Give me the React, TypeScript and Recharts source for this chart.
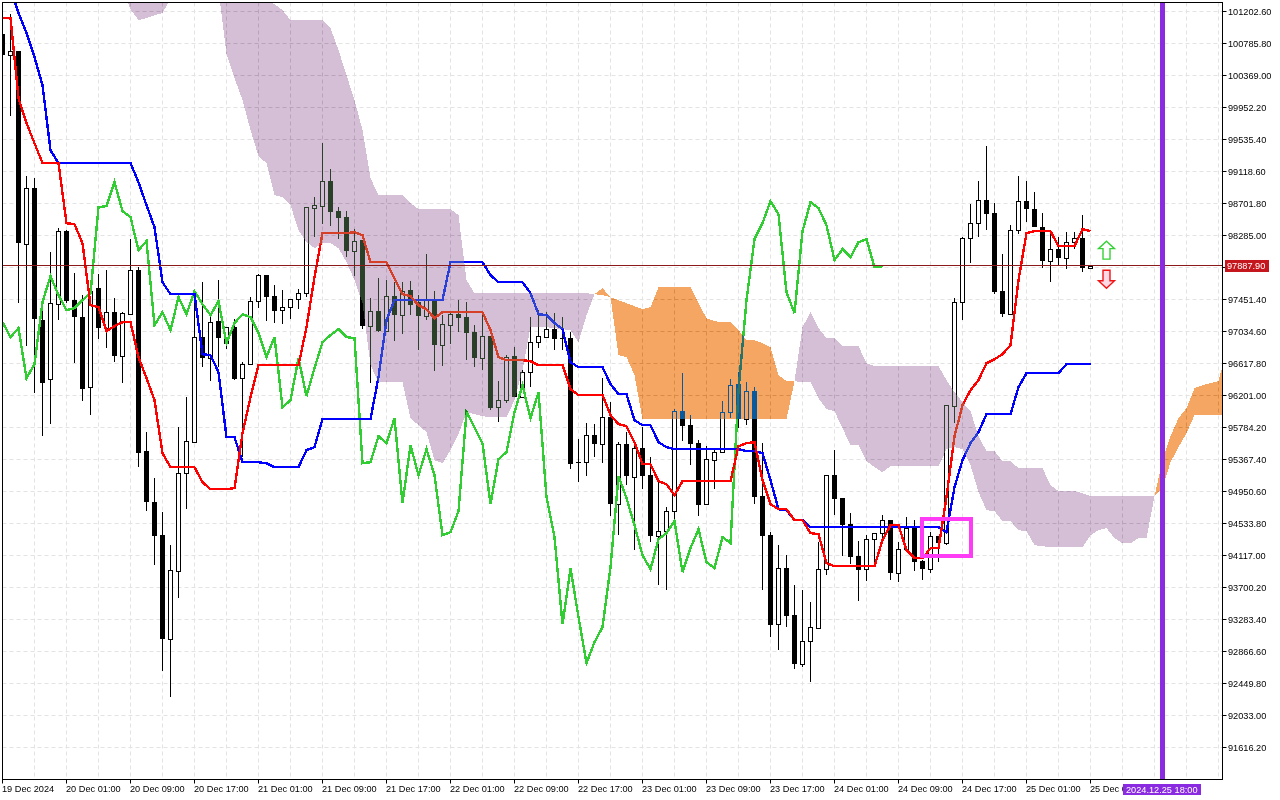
import {
  Area,
  Bar,
  CartesianGrid,
  ComposedChart,
  Line,
  ReferenceArea,
  ReferenceDot,
  ReferenceLine,
  XAxis,
  YAxis,
} from "recharts";

const timeLabels = [
  "19 Dec 2024", "20 Dec 01:00", "20 Dec 09:00", "20 Dec 17:00", "21 Dec 01:00", "21 Dec 09:00",
  "21 Dec 17:00", "22 Dec 01:00", "22 Dec 09:00", "22 Dec 17:00", "23 Dec 01:00", "23 Dec 09:00",
  "23 Dec 17:00", "24 Dec 01:00", "24 Dec 09:00", "24 Dec 17:00", "25 Dec 01:00", "25 Dec 09:00",
];

const priceTicks = [
  101202.6, 100785.8, 100369.0, 99952.2, 99535.4, 99118.6, 98701.8, 98285.0, 97868.2, 97451.4, 97034.6, 96617.8,
  96201.0, 95784.2, 95367.4, 94950.6, 94533.8, 94117.0, 93700.2, 93283.4, 92866.6, 92449.8, 92033.0, 91616.2,
];

const lastPrice = 97887.9;
const futureBar = 145;
const futureLabel = "2024.12.25 18:00";

const opens = [
  100907, 100634, 100686, 98172, 98902, 97182, 96414, 97391, 98341, 97443,
  97221, 96310, 97599, 97078, 97286, 96713, 97260, 97833, 95476, 94812,
  94382, 93027, 93913, 95189, 95593, 96961, 96687, 97169, 96882, 97091,
  96427, 96609, 97430, 97768, 97495, 97312, 97351, 97456, 97534, 98641,
  98667, 98993, 98602, 98524, 98081, 98224, 97104, 97299, 97039, 97495,
  97247, 97573, 97417, 97234, 97443, 96857, 97117, 97260, 97221, 97026,
  96687, 96974, 96049, 96140, 96713, 96179, 96505, 96896, 96961, 97065,
  96948, 96948, 95332, 95332, 95684, 95567, 95919, 94786, 95567, 95137,
  95515, 95163, 94369, 94434, 94694, 95997, 95814, 95580, 94786, 95359,
  95463, 95984, 96349, 95893, 96257, 94890, 94382, 93223, 93952, 93340,
  92702, 93001, 93170, 93939, 95163, 94864, 94525, 94108, 93939, 94330,
  94408, 94577, 93887, 94199, 94486, 94043, 93939, 94369, 94278, 96062,
  97417, 98250, 98445, 98745, 98576, 97560, 97260, 98354, 98732, 98628,
  98393, 97951, 98107, 97990, 98198, 98250, 97859,
];

const closes = [
  100634, 100686, 98185, 98902, 97195, 96362, 97404, 98341, 97430, 97221,
  96283, 97560, 97078, 97286, 96713, 97273, 97833, 95450, 94812, 94369,
  93027, 93926, 95189, 95606, 96961, 96687, 97156, 96948, 97091, 96414,
  96609, 97430, 97768, 97482, 97299, 97351, 97456, 97534, 98654, 98680,
  98993, 98589, 98511, 98081, 98211, 97104, 97299, 97039, 97495, 97247,
  97560, 97377, 97234, 97443, 96857, 97130, 97260, 97208, 97013, 96687,
  96974, 96036, 96140, 96700, 96179, 96505, 96896, 96974, 97065, 96935,
  96935, 95306, 95319, 95684, 95567, 95919, 94786, 95567, 95150, 95515,
  95150, 94369, 94434, 94694, 95997, 95801, 95567, 94772, 95372, 95463,
  95984, 96336, 95893, 96257, 94877, 94369, 93210, 93952, 93327, 92702,
  93001, 93183, 93939, 95163, 94851, 94512, 94095, 93926, 94330, 94408,
  94577, 93887, 94199, 94473, 94030, 93939, 94369, 94278, 96075, 97417,
  98250, 98445, 98745, 98563, 97547, 97260, 98354, 98732, 98628, 98393,
  97951, 98107, 97990, 98198, 98250, 97859, 97888,
];

const highs = [
  100907, 101168, 100686, 99058, 99032, 97299, 98068, 98380, 98354, 97794,
  97508, 97690, 97781, 97833, 97469, 97286, 98237, 97872, 95723, 95124,
  94681, 94251, 95788, 96179, 97573, 97677, 97247, 97703, 97091, 97195,
  96635, 97482, 97781, 97768, 97638, 97573, 97456, 97586, 98654, 98784,
  99487, 99149, 98654, 98602, 98367, 98224, 97469, 97729, 97703, 97677,
  97677, 97690, 97508, 98042, 97560, 97247, 97286, 97443, 97417, 97117,
  97247, 96974, 96388, 96726, 96830, 96531, 97221, 97312, 97286, 97273,
  97221, 97026, 95632, 95840, 95828, 96427, 96114, 95593, 95723, 95606,
  95788, 95398, 95098, 94746, 96023, 96492, 95945, 95619, 95541, 95515,
  96127, 96414, 96505, 96375, 96310, 95580, 94421, 94251, 94121, 93730,
  93665, 93509, 94291, 95163, 95489, 94864, 94668, 94304, 94382, 94408,
  94642, 94577, 94291, 94616, 94577, 94056, 94421, 94369, 96075, 97469,
  98263, 98693, 98993, 99448, 98706, 98042, 98420, 99058, 98993, 98849,
  98576, 98341, 98263, 98328, 98328, 98550, 97899,
];

const lows = [
  100634, 99839, 97403, 96844, 96231, 95671, 95828, 97182, 97404, 96622,
  96127, 95945, 96935, 96817, 96635, 96362, 97247, 95267, 94694, 93991,
  92610, 92272, 93561, 94720, 95580, 96570, 96388, 96570, 96804, 96401,
  95398, 96596, 97339, 97169, 97143, 97130, 97195, 97325, 97482, 98263,
  98433, 98407, 98237, 98003, 97755, 97065, 96362, 97026, 97026, 96909,
  97000, 97247, 96791, 97182, 96518, 96583, 96870, 97026, 96661, 96570,
  96531, 96010, 95854, 96101, 96179, 96166, 96310, 96817, 96948, 96791,
  96791, 95241, 95072, 95150, 95398, 95319, 94629, 94382, 95033, 94186,
  94981, 94291, 93730, 93665, 94577, 95606, 95293, 94629, 94786, 94981,
  95450, 95906, 95775, 95814, 94786, 93665, 93053, 92884, 93183, 92636,
  92662, 92467, 93157, 93861, 94642, 94108, 94004, 93522, 93783, 93965,
  94343, 93796, 93770, 94199, 93913, 93796, 93887, 94030, 94251, 95840,
  97182, 97925, 98263, 98354, 97521, 97221, 97247, 98302, 98459, 98393,
  97859, 97677, 97899, 97846, 98107, 97807, 97846,
];

const tenkan = [
  101116, 101116, 100074, 99748, 99487, 99227, 99227, 99227, 98445, 98432,
  98185, 97377, 97351, 97039, 97104, 97156, 97156, 96700, 96427, 96140,
  95450, 95267, 95267, 95267, 95267, 95072, 94981, 94981, 94981, 94994,
  95710, 96179, 96596, 96596, 96596, 96596, 96596, 96596, 97091, 97742,
  98315, 98315, 98315, 98315, 98328, 98289, 97937, 97937, 97937, 97729,
  97521, 97495, 97377, 97325, 97208, 97286, 97286, 97286, 97286, 97286,
  97286, 97052, 96700, 96661, 96661, 96661, 96648, 96596, 96596, 96596,
  96596, 96283, 96205, 96205, 96205, 96205, 95945, 95828, 95801, 95593,
  95306, 95306, 95085, 95046, 94903, 95085, 95085, 95085, 95085, 95085,
  95085, 95085, 95541, 95580, 95593, 95098, 94786, 94720, 94720, 94577,
  94577, 94408, 94395, 94017, 93978, 93978, 93978, 93978, 93978, 93978,
  94317, 94512, 94512, 94186, 94082, 94082, 94212, 94212, 94877, 95671,
  96075, 96270, 96401, 96622, 96674, 96739, 96856, 97703, 98315, 98341,
  98341, 98341, 98146, 98146, 98146, 98367, 98341,
];

const kijun = [
  101741, 101506, 101181, 100920, 100608, 100243, 99396, 99227, 99227, 99227,
  99227, 99227, 99227, 99227, 99227, 99227, 99227, 98979, 98680, 98393,
  97677, 97521, 97521, 97521, 97521, 96739, 96726, 96505, 95658, 95658,
  95332, 95332, 95332, 95319, 95267, 95267, 95267, 95267, 95489, 95528,
  95893, 95893, 95893, 95893, 95893, 95893, 95893, 96440, 97182, 97443,
  97443, 97443, 97443, 97443, 97443, 97443, 97937, 97937, 97937, 97937,
  97937, 97768, 97677, 97677, 97677, 97677, 97534, 97260, 97247, 97143,
  97065, 96635, 96570, 96570, 96570, 96570, 96349, 96218, 96218, 95880,
  95814, 95814, 95593, 95528, 95502, 95502, 95502, 95502, 95502, 95502,
  95502, 95502, 95502, 95476, 95476, 95450, 95098, 94720, 94707, 94577,
  94577, 94486, 94486, 94486, 94486, 94486, 94486, 94486, 94486, 94486,
  94486, 94486, 94486, 94486, 94486, 94486, 94486, 94486, 94421, 95007,
  95359, 95580, 95723, 95958, 95958, 95958, 95958, 96310, 96492, 96492,
  96492, 96492, 96492, 96609, 96609, 96609, 96609,
];

const chikou = [
  97156, 96961, 97078, 96427, 96609, 97417, 97755, 97508, 97312, 97338,
  97443, 97534, 98654, 98667, 98979, 98602, 98524, 98094, 98211, 97117,
  97286, 97052, 97482, 97260, 97560, 97390, 97247, 97430, 96882, 97143,
  97260, 97221, 97013, 96700, 96961, 96049, 96140, 96687, 96192, 96557,
  96896, 96987, 97065, 96961, 96948, 95319, 95332, 95671, 95580, 95906,
  94798, 95554, 95163, 95502, 95163, 94382, 94421, 94694, 95984, 95788,
  95580, 94786, 95372, 95463, 95984, 96336, 95906, 96244, 94877, 94356,
  93223, 93952, 93314, 92715, 92988, 93183, 93965, 95150, 94864, 94512,
  94121, 93939, 94330, 94408, 94564, 93900, 94212, 94460, 94030, 93952,
  94356, 94278, 96270, 97443, 98237, 98445, 98732, 98563, 97547, 97273,
  98341, 98719, 98641, 98419, 97964, 98107, 98003, 98198, 98237, 97872,
  97885,
];

// cloud edges start at bar 15, null where no cloud is on screen
const kumoStart = 15;
const kumoHigh = [
  101480, 101480, 101480, 101480, 101480, 101480, 101480, null, null, null, null, null,
  101480, 101480, 101480, 101480, 101480, 101480, 101337, 101298, 101220, 101090, 101090, 101090,
  101090, 101090, 100985, 100699, 100373, 100048, 99657, 99032, 98810, 98810, 98810, 98810,
  98706, 98628, 98628, 98628, 98628, 98628, 98550, 97703, 97534, 97534, 97534, 97534,
  97534, 97534, 97534, 97534, 97534, 97534, 97534, 97534, 97534, 97534, 97534, 97521,
  97599, 97482, 97443, 97404, 97364, 97325, 97351, 97612, 97612, 97612, 97612, 97612,
  97404, 97208, 97169, 97156, 97156, 97052, 96922, 96922, 96882, 96830, 96466, 96388, 96388,
  97091, 97286, 97078, 96948, 96948, 96844, 96844, 96844, 96622, 96583, 96583, 96583,
  96583, 96583, 96583, 96583, 96583, 96583, 96401, 96244, 96114, 95997, 95671, 95476,
  95476, 95346, 95346, 95254, 95254, 95254, 95254, 95033, 94955, 94955, 94955, 94929,
  94890, 94890, 94890, 94890, 94890, 94890, 94890, 94890, 94890,
  95359, 95671, 95906, 96036, 96296, 96336, 96362, 96388, 96791,
];
const kumoLow = [
  101480, 101233, 101090, 101116, 101155, 101181, 101376, null, null, null, null, null,
  101480, 100647, 100334, 100048, 99657, 99318, 99227, 98810, 98784, 98680, 98354, 98198,
  98120, 98185, 98185, 98120, 97937, 97703, 97404, 96596, 96374, 96374, 96374, 96374,
  95906, 95814, 95723, 95359, 95319, 95489, 95697, 95984, 95958, 95932, 95919, 95919,
  95919, 96140, 96531, 97091, 97091, 97091, 97078, 97065, 97052, 96896, 97247, 97521,
  97508, 97482, 96726, 96700, 96466, 95893, 95893, 95893, 95893, 95893, 95893, 95893,
  95893, 95893, 95893, 95893, 95893, 95893, 95893, 95893, 95893, 95893, 95893, 95893, 96388,
  96374, 96374, 96166, 96023, 95997, 95775, 95554, 95554, 95346, 95267, 95202, 95280,
  95280, 95280, 95280, 95280, 95280, 95280, 95502, 95528, 95502, 95293, 94942, 94707,
  94694, 94564, 94564, 94447, 94434, 94251, 94238, 94225, 94225, 94225, 94225, 94225,
  94382, 94447, 94473, 94343, 94277, 94277, 94343, 94343, 94890,
  94994, 95332, 95528, 95710, 95945, 95945, 95945, 95945, 95945,
];
const purpleBars = [[15, 21], [27, 74], [99, 144]];
const orangeBars = [[74, 99], [144, 153]];

// pink marker box around the signal candle
const boxBars = [114.95, 121.05];
const boxPrices = [94110, 94592];
const arrowBar = 138;
const upArrowPrice = 98094;
const downArrowPrice = 97716;

const PURPLE_XOR = "#2a4029"; // white minus #d5bfd6
const ORANGE_XOR = "#0a599d"; // white minus #f5a662
const FONT = "'Liberation Sans', Arial, sans-serif";
const FONT_SIZE = 9.2;
const LINE_WIDTH = 2.4;

const inSpan = (t: number, spans: number[][]) => spans.some(([a, b]) => t >= a && t <= b);

const rows = Array.from({ length: 154 }, (_, t) => {
  const hi = kumoHigh[t - kumoStart];
  const lo = kumoLow[t - kumoStart];
  const band = hi == null || lo == null ? null : [lo, hi];
  return {
    t,
    open: opens[t],
    close: closes[t],
    high: highs[t],
    low: lows[t],
    range: highs[t] === undefined ? null : [lows[t], highs[t]],
    tenkan: tenkan[t] ?? null,
    kijun: kijun[t] ?? null,
    chikou: chikou[t] ?? null,
    purple: band && inSpan(t, purpleBars) ? band : null,
    orange: band && inSpan(t, orangeBars) ? band : null,
  };
});

function Candle(props: any) {
  const { x, y, width, height, payload } = props;
  if (!payload || payload.high === undefined) return null;
  const perPrice = height / (payload.high - payload.low);
  const cx = Math.floor(x + width / 2) + 0.5;
  const top = Math.round(y + (payload.high - Math.max(payload.open, payload.close)) * perPrice);
  const bottom = Math.round(y + (payload.high - Math.min(payload.open, payload.close)) * perPrice);
  const bull = payload.close > payload.open;
  return (
    <g shapeRendering="crispEdges">
      <line x1={cx} x2={cx} y1={y} y2={y + height} stroke="#000" strokeWidth={1} />
      {bull ? (
        <rect x={cx - 2} y={top + 0.5} width={4} height={Math.max(bottom - top, 1)} fill="#fff" stroke="#000" strokeWidth={1} />
      ) : (
        <rect x={cx - 2.5} y={top} width={5} height={Math.max(bottom - top, 1)} fill="#000" />
      )}
    </g>
  );
}

// the date tag of the future bar is the last tick, so it covers the label before it
function TimeTick(props: any) {
  const { x, y, payload } = props;
  if (payload.value === futureBar) {
    return (
      <g>
        <rect x={x - 39.5} y={y + 4.5} width={78} height={11} fill="#8a2be2" />
        <text x={x - 36.5} y={y + 13} fontFamily={FONT} fontSize={FONT_SIZE} fill="#fff">
          {futureLabel}
        </text>
      </g>
    );
  }
  return (
    <g>
      <line x1={x} x2={x} y1={y} y2={y + 4} stroke="#000" />
      <text x={x - 0.5} y={y + 12.5} fontFamily={FONT} fontSize={FONT_SIZE} fill="#000">
        {timeLabels[payload.value / 8]}
      </text>
    </g>
  );
}

function PriceTag(props: any) {
  const { viewBox } = props;
  const right = viewBox.x + viewBox.width;
  return (
    <g>
      <rect x={right + 2.5} y={viewBox.y - 6} width={44} height={12} fill="#c4161c" />
      <text x={right + 4.5} y={viewBox.y + 3.5} fontFamily={FONT} fontSize={FONT_SIZE} fill="#fff">
        {lastPrice.toFixed(2)}
      </text>
    </g>
  );
}

function UpArrow(props: any) {
  const { cx, cy } = props;
  const points = [[0, -9], [8, -1.5], [3.5, -1.5], [3.5, 9], [-3.5, 9], [-3.5, -1.5], [-8, -1.5]];
  return (
    <polygon
      points={points.map(([a, b]) => `${cx + a},${cy + b}`).join(" ")}
      fill="#fff"
      stroke="#35d135"
      strokeWidth={1.4}
    />
  );
}

function DownArrow(props: any) {
  const { cx, cy } = props;
  const points = [[0, 9], [8, 1.5], [3.5, 1.5], [3.5, -9], [-3.5, -9], [-3.5, 1.5], [-8, 1.5]];
  return (
    <polygon
      points={points.map(([a, b]) => `${cx + a},${cy + b}`).join(" ")}
      fill="#ffd9e6"
      stroke="#f01414"
      strokeWidth={1.4}
    />
  );
}

export default function App() {
  return (
    <div style={{ position: "absolute", left: 0, top: 0, width: 1280, height: 800, background: "#fff" }}>
      <style>{`
        .kumo { mix-blend-mode: difference; }
        .recharts-line-curve, .recharts-area-area, .recharts-reference-line-line, .recharts-reference-area-rect {
          shape-rendering: crispEdges;
        }
      `}</style>
      <ComposedChart
        width={1280}
        height={800}
        data={rows}
        margin={{ top: 2.5, left: 2.5, right: 0, bottom: 0 }}
        barSize={5}
      >
        <CartesianGrid
          fill="#fff"
          fillOpacity={1}
          stroke="#e3e3e3"
          strokeDasharray="4 3"
          horizontalValues={priceTicks}
          verticalValues={Array.from({ length: 39 }, (_, k) => k * 4)}
        />
        <XAxis
          dataKey="t"
          type="number"
          domain={[0, 152.5]}
          allowDataOverflow
          ticks={[...timeLabels.map((_, k) => k * 8), futureBar]}
          interval={0}
          height={20.5}
          tickSize={0}
          tickMargin={0}
          tickLine={false}
          axisLine={{ stroke: "#000" }}
          tick={TimeTick}
        />
        <YAxis
          orientation="right"
          type="number"
          width={57.5}
          domain={[91199.4, 101319.8]}
          allowDataOverflow
          ticks={priceTicks}
          interval={0}
          tickSize={4}
          tickMargin={1.5}
          tickLine={{ stroke: "#000" }}
          axisLine={{ stroke: "#000" }}
          tick={{ fontFamily: FONT, fontSize: FONT_SIZE, fill: "#000" }}
          tickFormatter={(v: number) => (v === 97868.2 ? "" : v.toFixed(2))}
        />
        <Bar dataKey="range" shape={Candle} isAnimationActive={false} />
        <Line dataKey="chikou" stroke="#32cd32" strokeWidth={LINE_WIDTH} dot={false} connectNulls={false} isAnimationActive={false} />
        <Line dataKey="kijun" stroke="#0000ff" strokeWidth={LINE_WIDTH} dot={false} connectNulls={false} isAnimationActive={false} />
        <Line dataKey="tenkan" stroke="#ff0000" strokeWidth={LINE_WIDTH} dot={false} connectNulls={false} isAnimationActive={false} />
        <Area className="kumo" zIndex={450} dataKey="purple" fill={PURPLE_XOR} fillOpacity={1} stroke="none" dot={false} activeDot={false} isAnimationActive={false} />
        <Area className="kumo" zIndex={450} dataKey="orange" fill={ORANGE_XOR} fillOpacity={1} stroke="none" dot={false} activeDot={false} isAnimationActive={false} />
        <ReferenceLine y={lastPrice} stroke="#8b1a1a" strokeWidth={1} label={<PriceTag />} zIndex={600} />
        <ReferenceLine x={futureBar} stroke="#8a2be2" strokeWidth={5} zIndex={600} />
        <ReferenceDot x={arrowBar} y={upArrowPrice} shape={UpArrow} />
        <ReferenceDot x={arrowBar} y={downArrowPrice} shape={DownArrow} />
        <ReferenceArea
          x1={boxBars[0]}
          x2={boxBars[1]}
          y1={boxPrices[0]}
          y2={boxPrices[1]}
          fill="none"
          stroke="#ff3cf5"
          strokeWidth={4}
          zIndex={600}
        />
        <ReferenceArea x1={0} x2={152.5} y1={91199.4} y2={101319.8} fill="none" stroke="#000" strokeWidth={1} zIndex={600} />
      </ComposedChart>
    </div>
  );
}
